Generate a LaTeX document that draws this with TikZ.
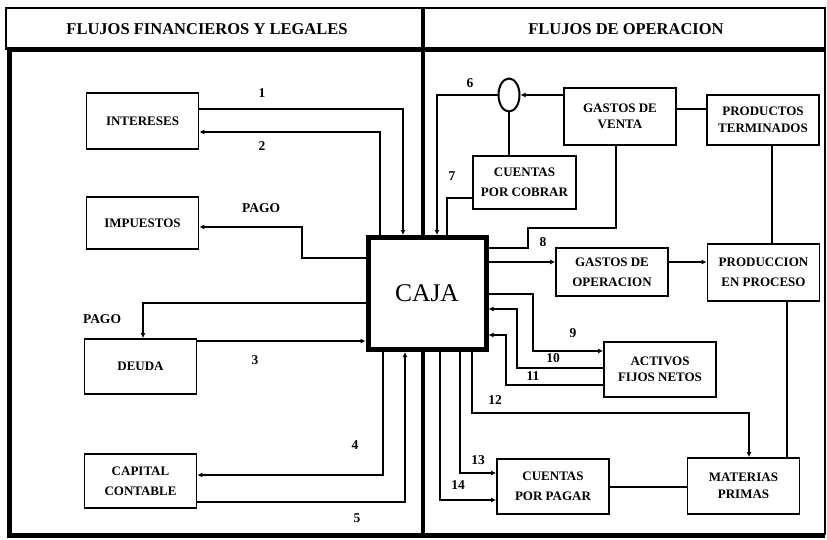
\documentclass[tikz,border=0pt]{standalone}
\usepackage{fontspec}
\setmainfont{Liberation Serif}
\usetikzlibrary{arrows.meta,shapes.geometric}

\begin{document}
\begin{tikzpicture}[x=1pt, y=-1pt,
 acct/.style={draw, line width=1.8pt, fill=white, minimum width=112pt,
          minimum height=54pt, align=center, inner sep=2pt,
          font=\fontsize{13}{20}\selectfont\bfseries},
 tight/.style={font=\fontsize{13}{16.5}\selectfont\bfseries},
 cajabox/.style={draw, line width=5pt, fill=white, minimum width=118pt,
          minimum height=112pt, font=\fontsize{25.5}{30}\selectfont},
 flow/.style={-{Latex[length=5pt,width=5pt]}, line width=1.6pt},
 tie/.style={line width=1.6pt},
 num/.style={font=\fontsize{13.5}{15}\selectfont\bfseries, inner sep=1pt},
 hdr/.style={font=\fontsize{16.5}{19}\selectfont\bfseries}
]
\useasboundingbox (0,0) rectangle (827,540);
% frame, header strip and the divider between the two halves
\draw[line width=1.2pt] (6,50) |- (825,8) -- (825,535);
\draw[line width=5pt] (825,50) -| (9,535) -- (825,535);
\draw[line width=4.5pt] (423,8) -- (423,535);
\node[hdr] (lefthdr) at (207,29) {FLUJOS FINANCIEROS Y LEGALES};
\node[hdr] (righthdr) at (626,29) {FLUJOS DE OPERACION};

\node[cajabox] (caja) at (427,293.5) {CAJA};
\node[acct, minimum height=56pt] (intereses) at (142.5,121) {INTERESES};
\node[acct, minimum height=52pt] (impuestos) at (142.5,223) {IMPUESTOS};
\node[acct, minimum height=55pt] (deuda) at (140.5,366.5) {DEUDA};
\node[acct] (capital) at (140.5,481) {CAPITAL\\CONTABLE};
\node[draw, ellipse, line width=2pt, minimum width=21pt, minimum height=33pt,
      inner sep=0pt] (venta) at (509,95) {};
\node[acct, tight, minimum height=57pt] (gventa) at (620,116.5) {GASTOS DE\\VENTA};
\node[acct, tight, minimum height=50pt] (pterm) at (763,120) {PRODUCTOS\\TERMINADOS};
\node[acct, minimum width=103pt, minimum height=53pt] (cxc) at (524.5,182.5) {CUENTAS\\POR COBRAR};
\node[acct, minimum height=48pt] (gop) at (612,272) {GASTOS DE\\OPERACION};
\node[acct, minimum height=57pt] (pproc) at (763.5,272.5) {PRODUCCION\\EN PROCESO};
\node[acct, tight, minimum height=55pt] (activos) at (660,369.5) {ACTIVOS\\FIJOS NETOS};
\node[acct, minimum height=55pt] (cxp) at (553,486.5) {CUENTAS\\POR PAGAR};
\node[acct, tight, minimum height=56pt] (mprimas) at (743.5,486) {MATERIAS\\PRIMAS};

% financial and legal flows
\draw[flow] (intereses.east |- 0,109) -| (403,0 |- caja.north);
\draw[flow] (380,0 |- caja.north) |- (intereses.east |- 0,132);
\draw[flow] (caja.west |- 0,258) -| (302,227) -- (impuestos.east |- 0,227);
\draw[flow] (caja.west |- 0,303) -| (143,0 |- deuda.north);
\draw[flow] (deuda.east |- 0,341) -- (caja.west |- 0,341);
\draw[flow] (383,0 |- caja.south) |- (capital.east |- 0,475);
\draw[flow] (capital.east |- 0,502) -| (405,0 |- caja.south);
\node[num] (n1) at (262,93) {1};
\node[num] (n2) at (262,146) {2};
\node[num] (pago1) at (261,208) {PAGO};
\node[num] (pago2) at (102,319) {PAGO};
\node[num] (n3) at (255,360) {3};
\node[num] (n4) at (355,445) {4};
\node[num] (n5) at (357,518) {5};

% operating flows
\draw[flow] (gventa.west |- venta) -- (venta);
\draw[tie] (gventa.east |- 0,109) -- (pterm.west |- 0,109);
\draw[tie] (venta.south) -- (venta.south |- cxc.north);
\draw[flow] (venta.west) -| (437,0 |- caja.north);
\draw[tie] (cxc.west |- 0,198) -| (447,0 |- caja.north);
\draw[tie] (616,0 |- gventa.south) |- (528,228) |- (caja.east |- 0,248);
\draw[flow] (caja.east |- 0,262) -- (gop.west |- 0,262);
\draw[flow] (gop.east |- 0,262) -- (pproc.west |- 0,262);
\draw[tie] (772,0 |- pterm.south) -- (772,0 |- pproc.north);
\draw[tie] (787,0 |- pproc.south) -- (787,0 |- mprimas.north);
\draw[flow] (caja.east |- 0,294) -| (533,351) -- (activos.west |- 0,351);
\draw[flow] (activos.west |- 0,368) -| (517,309) -- (caja.east |- 0,309);
\draw[flow] (activos.west |- 0,385) -| (506,335) -- (caja.east |- 0,335);
\draw[flow] (472,0 |- caja.south) |- (749,413) -- (749,0 |- mprimas.north);
\draw[flow] (460,0 |- caja.south) |- (cxp.west |- 0,473);
\draw[flow] (440,0 |- caja.south) |- (cxp.west |- 0,500);
\draw[tie] (cxp.east |- 0,487) -- (mprimas.west |- 0,487);
\node[num] (n6) at (470,83) {6};
\node[num] (n7) at (452,176) {7};
\node[num] (n8) at (543,242) {8};
\node[num] (n9) at (573,333) {9};
\node[num] (n10) at (553,358) {10};
\node[num] (n11) at (533,376) {11};
\node[num] (n12) at (495,400) {12};
\node[num] (n13) at (478,460) {13};
\node[num] (n14) at (458,485) {14};
\end{tikzpicture}
\end{document}
